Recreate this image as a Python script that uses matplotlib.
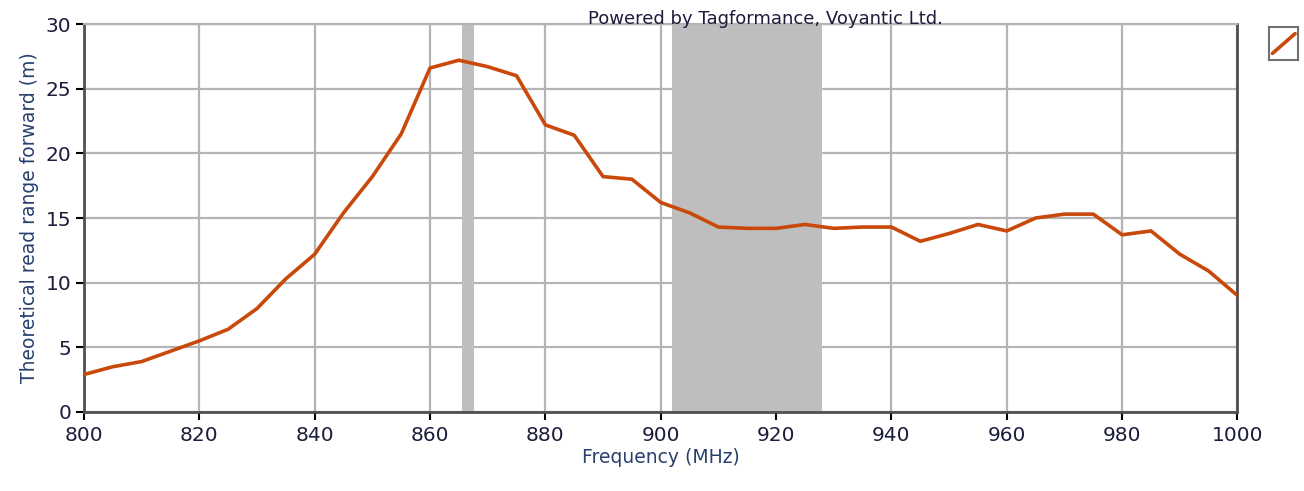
import matplotlib
matplotlib.use('Agg')
import matplotlib.pyplot as plt

freq = [800, 805, 810, 815, 820, 825, 830, 835, 840, 845, 850, 855, 860, 865, 870,
        875, 880, 885, 890, 895, 900, 905, 910, 915, 920, 925, 930, 935, 940, 945,
        950, 955, 960, 965, 970, 975, 980, 985, 990, 995, 1000]
read_range = [2.9, 3.5, 3.9, 4.7, 5.5, 6.4, 8.0, 10.3, 12.2, 15.4, 18.2, 21.5, 26.6, 27.2, 26.7,
              26.0, 22.2, 21.4, 18.2, 18.0, 16.2, 15.4, 14.3, 14.2, 14.2, 14.5, 14.2, 14.3, 14.3, 13.2,
              13.8, 14.5, 14.0, 15.0, 15.3, 15.3, 13.7, 14.0, 12.2, 10.9, 9.0]
bands = [(865.6, 867.6), (902, 928)]
x_ticks = list(range(800, 1001, 20))
y_ticks = list(range(0, 31, 5))

line_color = '#c8490a'
text_color = '#1c1c3c'
label_color = '#27406e'

plt.rcParams['font.family'] = ['DejaVu Sans']
fig = plt.figure(figsize=(13.04, 4.91), dpi=100)
ax = fig.add_axes([0.0644, 0.1609, 0.8846, 0.7902])

for lo, hi in bands:
    ax.axvspan(lo, hi, color='#bebebe', lw=0, zorder=1)

ax.plot(freq, read_range, color=line_color, lw=2.6, zorder=3, solid_joinstyle='round')

ax.set_xlim(800, 1000)
ax.set_ylim(0, 30)
ax.set_xticks(x_ticks)
ax.set_yticks(y_ticks)
ax.grid(True, color='#b4b4b4', lw=1.6, zorder=0)
ax.set_axisbelow(True)

for side in ['left', 'bottom', 'right']:
    ax.spines[side].set_color('#505050')
    ax.spines[side].set_linewidth(2)
ax.spines['top'].set_color('#b4b4b4')
ax.spines['top'].set_linewidth(1.6)

ax.tick_params(axis='both', labelsize=14.5, colors='black', labelcolor=text_color, width=1.5, length=6)
ax.tick_params(axis='x', pad=4)
ax.tick_params(axis='y', pad=3)

ax.set_xlabel('Frequency (MHz)', fontsize=13.5, color=label_color, labelpad=2)
ax.set_ylabel('Theoretical read range forward (m)', fontsize=13.5, color=label_color, labelpad=5)

fig.text(0.587, 0.962, 'Powered by Tagformance, Voyantic Ltd.', fontsize=13, color=text_color,
         ha='center', va='center')

# legend box: a tiny framed axes with the series glyph drawn diagonally
lax = fig.add_axes([1269 / 1304, 1 - 60 / 491, 29 / 1304, 33 / 491])
lax.plot([0.12, 0.9], [0.2, 0.8], color=line_color, lw=2.6, solid_capstyle='round')
lax.set_xlim(0, 1)
lax.set_ylim(0, 1)
lax.set_xticks([])
lax.set_yticks([])
for s in lax.spines.values():
    s.set_color('#707070')
    s.set_linewidth(1.5)

plt.savefig('out.png', dpi=100)
plt.close()
